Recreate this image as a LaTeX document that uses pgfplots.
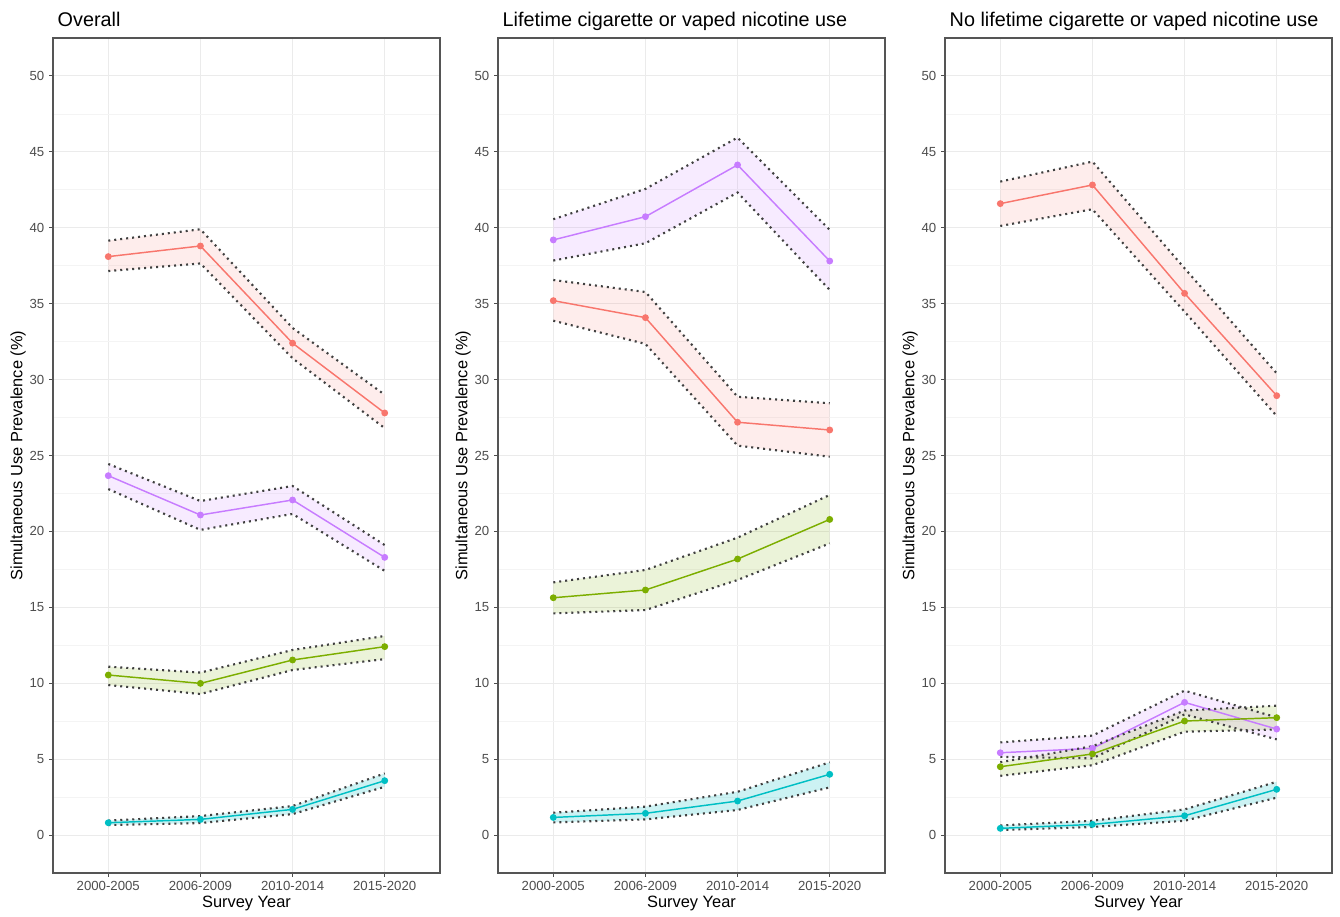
\documentclass[border=0pt]{standalone}
\usepackage{pgfplots}
\usepackage{pgfplotstable}
\pgfplotsset{compat=1.18}
\usepgfplotslibrary{fillbetween}
\usepackage{fontspec}
\setmainfont{Liberation Sans}
\definecolor{cR}{HTML}{F8766D}
\definecolor{cG}{HTML}{7CAE00}
\definecolor{cC}{HTML}{00BFC4}
\definecolor{cP}{HTML}{C77CFF}
\definecolor{tickgray}{HTML}{4D4D4D}
\definecolor{gridmaj}{HTML}{EBEBEB}
\definecolor{gridmin}{HTML}{F4F4F4}
\definecolor{bordergray}{HTML}{555555}

% x: 0..3 = 2000-2005, 2006-2009, 2010-2014, 2015-2020
% m = estimate, l = lower bound, u = upper bound
% r = red, p = purple, g = green, c = cyan
\pgfplotstableread{
x rm rl ru pm pl pu gm gl gu cm cl cu
0 38.10 37.15 39.15 23.67 22.79 24.44 10.54 9.88 11.09 0.81 0.66 0.95
1 38.80 37.65 39.90 21.08 20.10 22.00 9.99 9.29 10.70 1.03 0.79 1.25
2 32.40 31.40 33.40 22.07 21.15 22.99 11.53 10.87 12.19 1.69 1.38 1.91
3 27.80 26.80 29.00 18.29 17.40 19.10 12.41 11.59 13.11 3.58 3.18 4.06
}\tA
\pgfplotstableread{
x rm rl ru pm pl pu gm gl gu cm cl cu
0 35.20 33.88 36.56 39.20 37.84 40.56 15.63 14.60 16.64 1.16 0.83 1.47
1 34.08 32.35 35.77 40.73 38.98 42.56 16.14 14.82 17.46 1.43 1.03 1.87
2 27.19 25.65 28.87 44.14 42.32 45.94 18.18 16.80 19.59 2.24 1.65 2.85
3 26.68 24.92 28.44 37.81 35.90 39.86 20.79 19.21 22.40 4.00 3.14 4.79
}\tB
\pgfplotstableread{
x rm rl ru pm pl pu gm gl gu cm cl cu
0 41.59 40.12 43.04 5.42 5.15 6.10 4.50 3.90 4.80 0.44 0.33 0.63
1 42.82 41.22 44.36 5.71 5.05 6.55 5.34 4.60 5.85 0.70 0.53 0.94
2 35.68 34.47 37.33 8.74 7.95 9.51 7.51 6.81 8.20 1.27 0.94 1.69
3 28.94 27.60 30.41 6.98 6.30 7.75 7.73 6.95 8.52 3.01 2.46 3.51
}\tC

\pgfplotsset{
  panel/.style={
    set layers,
    scale only axis, width=290.25pt, height=626.25pt,
    anchor=south west,
    xmin=-0.6, xmax=3.6, ymin=-2.5, ymax=52.5,
    xtick={0,1,2,3},
    xticklabels={2000-2005,2006-2009,2010-2014,2015-2020},
    ytick={0,5,...,50},
    minor ytick={-2.5,2.5,...,52.5},
    grid=both,
    major grid style={gridmaj, line width=0.8pt},
    minor grid style={gridmin, line width=0.5pt},
    axis line style={bordergray, line width=0.9pt},
    tick align=outside, tick pos=left,
    major tick length=3pt, minor tick length=0pt,
    tick style={tickgray, line width=0.8pt},
    ticklabel style={font=\fontsize{9.9}{11}\selectfont, text=tickgray},
    /pgf/number format/assume math mode=true,
    xlabel={Survey Year},
    ylabel={Simultaneous Use Prevalence (\%)},
    label style={font=\fontsize{12.3}{14}\selectfont},
    xlabel style={at={(axis description cs:0.5,-0.0371)}, anchor=center},
    ylabel style={at={(axis description cs:-0.0904,0.5)}, anchor=center},
    title style={at={(axis description cs:0,1)}, anchor=base west, yshift=2.5pt,
                 font=\fontsize{14.85}{17}\selectfont},
  },
  ci/.style={black!75, line width=1.6pt, dash pattern=on 1.5pt off 3pt},
}

\newcommand{\series}[4]{%
  \addplot[ci, name path=#2up] table[x=x,y=#2u]{#1};
  \addplot[ci, name path=#2lo] table[x=x,y=#2l]{#1};
  \addplot[fill=#3, fill opacity=#4, draw=none] fill between[of=#2up and #2lo];
  \addplot[#3, line width=1.1pt, mark=*, mark size=2pt] table[x=x,y=#2m]{#1};
}

\begin{document}
\begin{tikzpicture}

\begin{axis}[panel, at={(39.75pt,33pt)}, title={Overall}]
  \series{\tA}{r}{cR}{0.13}
  \series{\tA}{p}{cP}{0.15}
  \series{\tA}{g}{cG}{0.15}
  \series{\tA}{c}{cC}{0.2}
\end{axis}

\begin{axis}[panel, at={(373.5pt,33pt)}, title={Lifetime cigarette or vaped nicotine use}]
  \series{\tB}{r}{cR}{0.13}
  \series{\tB}{p}{cP}{0.15}
  \series{\tB}{g}{cG}{0.15}
  \series{\tB}{c}{cC}{0.2}
\end{axis}

\begin{axis}[panel, at={(708.75pt,33pt)}, title={No lifetime cigarette or vaped nicotine use}]
  \series{\tC}{r}{cR}{0.13}
  \series{\tC}{p}{cP}{0.15}
  \series{\tC}{g}{cG}{0.15}
  \series{\tC}{c}{cC}{0.2}
\end{axis}
\path (0pt,0pt) rectangle (1005pt,687.75pt);
\end{tikzpicture}
\end{document}
